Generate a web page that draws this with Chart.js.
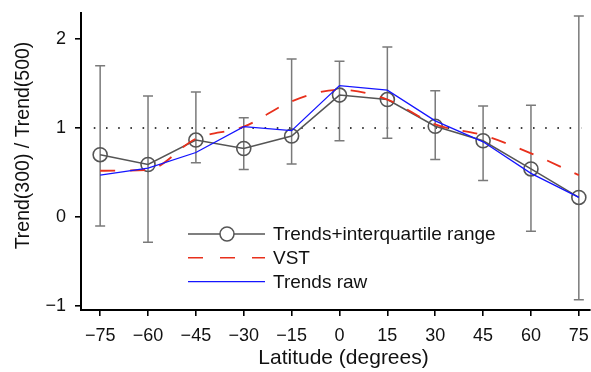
<!DOCTYPE html>
<html>
<head>
<meta charset="utf-8">
<script src="https://cdn.jsdelivr.net/npm/chart.js@4.4.1/dist/chart.umd.min.js"></script>
<style>
  html, body { margin: 0; padding: 0; background: #fff; }
  #wrap { width: 591px; height: 372px; position: relative; }
</style>
</head>
<body>
<div id="wrap"><canvas id="chart"></canvas></div>
<script>
// latitudes (degrees) and values
const latitudes = [-75, -60, -45, -30, -15, 0, 15, 30, 45, 60, 75];
const iqrTrend = [0.70, 0.59, 0.865, 0.77, 0.91, 1.37, 1.32, 1.02, 0.857, 0.54, 0.22];
const iqrLow   = [-0.10, -0.285, 0.61, 0.535, 0.595, 0.857, 0.885, 0.647, 0.41, -0.16, -0.93];
const iqrHigh  = [1.70, 1.36, 1.405, 1.115, 1.775, 1.75, 1.91, 1.42, 1.248, 1.256, 2.26];
const vstValues = [0.52, 0.53, 0.88, 1.015, 1.30, 1.43, 1.32, 1.04, 0.92, 0.715, 0.47];
const rawValues = [0.47, 0.55, 0.725, 1.015, 0.97, 1.477, 1.425, 1.08, 0.845, 0.49, 0.22];
const xTicks = [-75, -60, -45, -30, -15, 0, 15, 30, 45, 60, 75];
const yTicks = [-1, 0, 1, 2];
const xTitle = "Latitude (degrees)";
const yTitle = "Trend(300) / Trend(500)";

const FONT = "'Liberation Sans', Arial, sans-serif";
const fmt = v => (v < 0 ? "\u2212" + Math.abs(v) : String(v));
const pts = vals => latitudes.map((x, i) => ({ x, y: vals[i] }));
const noPad = s => { s.paddingTop = 0; s.paddingBottom = 0; s.paddingLeft = 0; s.paddingRight = 0; };

// dotted reference line at 1, interquartile bars, legend and axis titles
const extras = {
  id: "extras",
  beforeDatasetsDraw(chart) {
    const { ctx, scales: { x, y } } = chart;
    ctx.save();
    ctx.strokeStyle = "#000";
    ctx.lineWidth = 1.6;
    ctx.setLineDash([1.6, 10.6]);
    ctx.beginPath();
    ctx.moveTo(x.getPixelForValue(-77), y.getPixelForValue(1));
    ctx.lineTo(x.getPixelForValue(76), y.getPixelForValue(1));
    ctx.stroke();
    ctx.setLineDash([]);
    ctx.strokeStyle = "#7a7a7a";
    ctx.lineWidth = 1.5;
    latitudes.forEach((lat, i) => {
      const px = x.getPixelForValue(lat);
      const top = y.getPixelForValue(iqrHigh[i]);
      const bot = y.getPixelForValue(iqrLow[i]);
      ctx.beginPath();
      ctx.moveTo(px, top); ctx.lineTo(px, bot);
      ctx.moveTo(px - 5, top); ctx.lineTo(px + 5, top);
      ctx.moveTo(px - 5, bot); ctx.lineTo(px + 5, bot);
      ctx.stroke();
    });
    ctx.restore();
  },
  afterDraw(chart) {
    const { ctx } = chart;
    const rows = [
      { label: "Trends+interquartile range", color: "#555", dash: [], circle: true, w: 1.5 },
      { label: "VST", color: "#e8301c", dash: [15, 17], circle: false, w: 1.6 },
      { label: "Trends raw", color: "#1515ff", dash: [], circle: false, w: 1.3 }
    ];
    ctx.save();
    ctx.font = "19px " + FONT;
    ctx.textBaseline = "middle";
    rows.forEach((r, i) => {
      const yy = 234 + i * 23.8;
      ctx.strokeStyle = r.color;
      ctx.lineWidth = r.w;
      ctx.setLineDash(r.dash);
      ctx.beginPath();
      ctx.moveTo(188, yy); ctx.lineTo(265, yy);
      ctx.stroke();
      ctx.setLineDash([]);
      if (r.circle) {
        ctx.fillStyle = "#fff";
        ctx.beginPath();
        ctx.arc(227, yy, 7, 0, Math.PI * 2);
        ctx.fill();
        ctx.stroke();
      }
      ctx.fillStyle = "#111";
      ctx.fillText(r.label, 273, yy + 1);
    });

    // axis titles
    ctx.fillStyle = "#111";
    ctx.textAlign = "center";
    ctx.font = "21px " + FONT;
    ctx.fillText(xTitle, 343.5, 358.5);
    ctx.translate(24, 145.5);
    ctx.rotate(-Math.PI / 2);
    ctx.font = "19.5px " + FONT;
    ctx.fillText(yTitle, 0, 0);
    ctx.restore();
  }
};

new Chart(document.getElementById("chart"), {
  type: "line",
  data: {
    datasets: [
      {
        label: "Trends raw",
        data: pts(rawValues),
        borderColor: "#1515ff",
        borderWidth: 1.3,
        pointRadius: 0,
        tension: 0,
        order: 0
      },
      {
        label: "VST",
        data: pts(vstValues),
        borderColor: "#e8301c",
        borderWidth: 1.8,
        borderDash: [15, 15],
        pointRadius: 0,
        cubicInterpolationMode: "monotone",
        order: 1
      },
      {
        label: "Trends+interquartile range",
        data: pts(iqrTrend),
        borderColor: "#555",
        borderWidth: 1.5,
        pointRadius: 7,
        pointBorderWidth: 1.6,
        pointBackgroundColor: "rgba(0,0,0,0)",
        pointBorderColor: "#555",
        tension: 0,
        order: 2
      }
    ]
  },
  options: {
    responsive: true,
    maintainAspectRatio: false,
    animation: false,
    layout: { autoPadding: false, padding: { top: 12.7, right: 1, left: 0, bottom: 0 } },
    plugins: { legend: { display: false }, tooltip: { enabled: false } },
    scales: {
      x: {
        type: "linear",
        min: -81,
        max: 78.5,
        afterBuildTicks: s => { s.ticks = xTicks.map(v => ({ value: v })); },
        afterFit: s => { s.height = 62; noPad(s); },
        border: { display: true, color: "#000", width: 2 },
        grid: { drawOnChartArea: false, drawTicks: true, tickLength: 6, color: "#000", lineWidth: 1.6 },
        ticks: { callback: v => fmt(v), color: "#111", font: { family: FONT, size: 18 }, padding: 9, maxRotation: 0 }
      },
      y: {
        min: -1.045,
        max: 2.296,
        afterBuildTicks: s => { s.ticks = yTicks.map(v => ({ value: v })); },
        afterFit: s => { s.width = 81; noPad(s); },
        border: { display: true, color: "#000", width: 2 },
        grid: { drawOnChartArea: false, drawTicks: true, tickLength: 6, color: "#000", lineWidth: 1.6 },
        ticks: { callback: v => fmt(v), color: "#111", font: { family: FONT, size: 18 }, padding: 9 }
      }
    }
  },
  plugins: [extras]
});
</script>
</body>
</html>
